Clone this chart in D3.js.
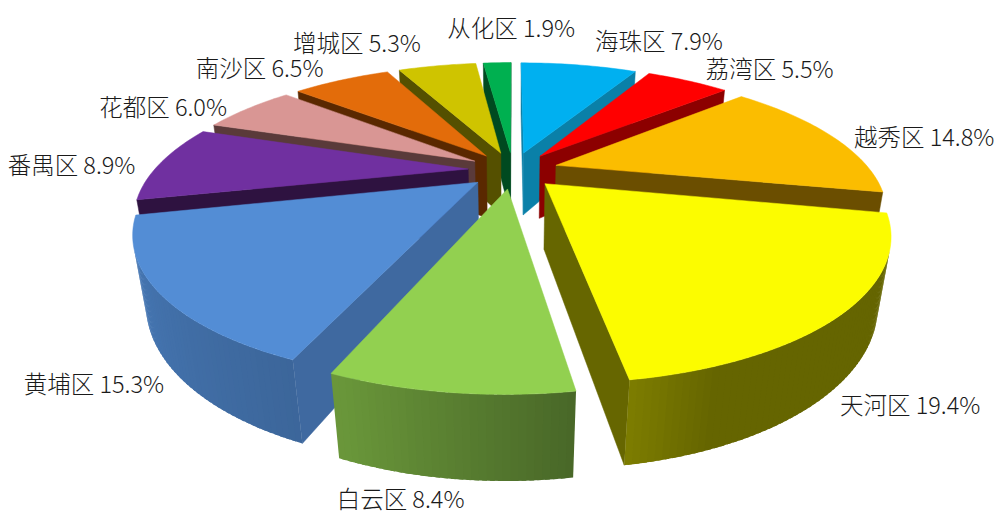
<!DOCTYPE html>
<html>
<head>
<meta charset="utf-8">
<script src="https://cdn.jsdelivr.net/npm/d3@7"></script>
<style>
  body { margin: 0; background: #fff; }
  text { font-family: "Noto Sans CJK SC", "Noto Sans", sans-serif; }
</style>
</head>
<body>
<svg id="chart" width="1008" height="520"></svg>
<script>
// 各区占比 (顺时针, 从12点方向开始)
const districts = ["海珠区", "荔湾区", "越秀区", "天河区", "白云区", "黄埔区", "番禺区", "花都区", "南沙区", "增城区", "从化区"];
const shares = [7.9, 5.5, 14.8, 19.4, 8.4, 15.3, 8.9, 6.0, 6.5, 5.3, 1.9];

// 顶面颜色 / 侧面颜色
const topColors = ["#00B0F0", "#FF0000", "#FBBD00", "#FCFC00", "#92D050", "#538DD5", "#7030A0", "#D99694", "#E36C0A", "#CFC400", "#00B050"];
const sideColors = ["#0A80A8", "#8C0000", "#6B4E00", "#666600", "#4A6A2A", "#3F69A0", "#2E1240", "#5A3A3A", "#5A2800", "#555000", "#004A20"];

const svg = d3.select("#chart");

// 3D 视角参数
const cx = 513, cy = 170;
const radius = 314, explode = 45, depth = 72, dist = 930;
const tilt = Math.asin(0.405);
const sinA = Math.sin(tilt), cosA = Math.cos(tilt);
const cam = [0, dist * sinA, -dist * cosA];

// 外壁明暗 (按法线角度)
const wallShade = d3.scaleLinear()
    .domain([0, 90, 160, 172, 200, 230, 260, 300, 360])
    .range([0.6, 0.4, 0.4, 0.5, 0.72, 0.8, 0.88, 0.85, 0.6])
    .clamp(true);

const color = d3.scaleOrdinal().domain(districts).range(topColors);
const sideColor = d3.scaleOrdinal().domain(districts).range(sideColors);

function project(X, Y, Z) {
  const yv = Y * cosA + Z * sinA;
  const zv = Z * cosA - Y * sinA;
  const s = dist / (dist + zv);
  return [cx + X * s, cy - yv * s, zv];
}

function shade(c, k) {
  const r = d3.rgb(c);
  return d3.rgb(r.r * k, r.g * k, r.b * k).formatHex();
}

function facing(n, p) {
  return n[0] * (cam[0] - p[0]) + n[1] * (cam[1] - p[1]) + n[2] * (cam[2] - p[2]) > 0;
}

const arcs = d3.pie().sort(null).value(d => d)(shares);
const line = d3.line().curve(d3.curveLinearClosed);
const step = Math.PI / 180;

const slices = arcs.map((a, i) => {
  const a0 = a.startAngle, a1 = a.endAngle, m = (a0 + a1) / 2;
  const ex = explode * Math.sin(m), ez = explode * Math.cos(m);
  const P3 = (r, t, Y) => [ex + r * Math.sin(t), Y, ez + r * Math.cos(t)];
  const pt = (r, t, Y) => { const p = P3(r, t, Y); return project(p[0], p[1], p[2]).slice(0, 2); };
  const n = Math.max(2, Math.ceil((a1 - a0) / step));
  const ts = d3.range(n + 1).map(j => a0 + (a1 - a0) * j / n);
  const faces = [];

  // 径向侧面
  const startN = [-Math.cos(a0), 0, Math.sin(a0)];
  if (facing(startN, P3(radius / 2, a0, -depth / 2)))
    faces.push({ pts: [pt(0, a0, 0), pt(radius, a0, 0), pt(radius, a0, -depth), pt(0, a0, -depth)], fill: sideColor(districts[i]), edge: true });
  const endN = [Math.cos(a1), 0, -Math.sin(a1)];
  if (facing(endN, P3(radius / 2, a1, -depth / 2)))
    faces.push({ pts: [pt(0, a1, 0), pt(radius, a1, 0), pt(radius, a1, -depth), pt(0, a1, -depth)], fill: sideColor(districts[i]), edge: true });

  // 外壁 (相邻小块略微重叠, 避免接缝)
  for (let j = 0; j < n; j++) {
    const ta = ts[j], tb = ts[j + 1], tm = (ta + tb) / 2;
    const nn = [Math.sin(tm), 0, Math.cos(tm)];
    if (!facing(nn, P3(radius, tm, -depth / 2))) continue;
    const tb2 = Math.min(a1, tb + step * 0.6);
    faces.push({
      pts: [pt(radius, ta, 0), pt(radius, tb2, 0), pt(radius, tb2, -depth), pt(radius, ta, -depth)],
      fill: shade(color(districts[i]), wallShade(tm * 180 / Math.PI)),
      edge: false
    });
  }

  // 顶面
  faces.push({ pts: [pt(0, 0, 0)].concat(ts.map(t => pt(radius, t, 0))), fill: color(districts[i]), edge: true });

  const c = P3(radius * 0.5, m, 0);
  const zc = project(c[0], c[1], c[2])[2];
  return { i, m, faces, pt, zc };
});

// 由远到近绘制
const g = svg.append("g");
slices.slice().sort((a, b) => b.zc - a.zc).forEach(sl => {
  const sg = g.append("g").attr("class", "slice");
  sg.selectAll("path")
    .data(sl.faces)
    .join("path")
      .attr("d", f => line(f.pts))
      .attr("fill", f => f.fill)
      .attr("stroke", f => f.edge ? f.fill : "none")
      .attr("stroke-width", 0.5)
      .attr("stroke-linejoin", "round");
});

// 标签
const fmt = d3.format(".1f");
const labels = svg.append("g");
slices.forEach(sl => {
  const s = Math.sin(sl.m), c = Math.cos(sl.m);
  const back = c >= 0;
  const [px, py] = sl.pt(radius, sl.m, back ? 0 : -depth);
  let x, y, anchor;
  if (back) {
    if (Math.abs(s) < 0.1) { x = px + 14; anchor = "middle"; y = py - 36; }
    else {
      const gap = 16 + 10 * (1 - c);
      x = px + (s > 0 ? gap : -gap);
      anchor = s > 0 ? "start" : "end";
      y = py + 1 - 28 * Math.pow(c, 3);
    }
  } else {
    const gap = 9 - 26 * (1 - Math.min(1, Math.abs(s) / 0.7));
    x = px + (s > 0 ? gap : -gap);
    anchor = s > 0 ? "start" : "end";
    y = py + 13 + 8 * (1 - Math.min(1, Math.abs(s) / 0.7));
  }
  labels.append("text")
    .attr("x", x)
    .attr("y", y)
    .attr("text-anchor", anchor)
    .attr("dominant-baseline", "central")
    .attr("font-size", 23.5)
    .attr("font-weight", 300)
    .attr("fill", "#1a1a1a")
    .text(districts[sl.i] + " " + fmt(shares[sl.i]) + "%");
});
</script>
</body>
</html>
